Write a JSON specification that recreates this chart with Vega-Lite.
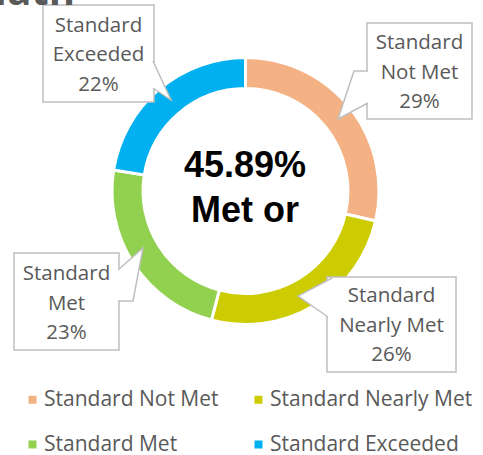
{
  "$schema": "https://vega.github.io/schema/vega-lite/v6.json",
  "width": 483,
  "height": 455,
  "autosize": "none",
  "padding": 0,
  "background": "white",
  "config": {"view": {"stroke": null}, "font": "Open Sans"},
  "datasets": {
    "segments": [
      {"cat": "Standard Not Met", "value": 28.6, "ord": 1},
      {"cat": "Standard Nearly Met", "value": 25.51, "ord": 2},
      {"cat": "Standard Met", "value": 23.4, "ord": 3},
      {"cat": "Standard Exceeded", "value": 22.49, "ord": 4}
    ],
    "boxes": [
      {"cat": "Standard Exceeded", "x1": -202.5, "x2": -91.5, "y1": 186, "y2": 89, "cx": -147, "cy": 165.5, "label": "Standard\nExceeded\n22%"},
      {"cat": "Standard Not Met", "x1": 121.5, "x2": 226.5, "y1": 168, "y2": 72, "cx": 174, "cy": 148, "label": "Standard\nNot Met\n29%"},
      {"cat": "Standard Met", "x1": -231.5, "x2": -126.5, "y1": -62, "y2": -159, "cx": -179, "cy": -83, "label": "Standard\nMet\n23%"},
      {"cat": "Standard Nearly Met", "x1": 81.5, "x2": 210.5, "y1": -86, "y2": -181, "cx": 146, "cy": -105, "label": "Standard\nNearly Met\n26%"}
    ],
    "tails": [
      {"cat": "Standard Exceeded", "px": -92.5, "py": 130, "o": 1},
      {"cat": "Standard Exceeded", "px": -74.5, "py": 91, "o": 2},
      {"cat": "Standard Exceeded", "px": -92.5, "py": 103, "o": 3},
      {"cat": "Standard Not Met", "px": 122.5, "py": 120, "o": 1},
      {"cat": "Standard Not Met", "px": 108.5, "py": 120, "o": 2},
      {"cat": "Standard Not Met", "px": 92.5, "py": 72, "o": 3},
      {"cat": "Standard Not Met", "px": 122.5, "py": 88, "o": 4},
      {"cat": "Standard Met", "px": -127.5, "py": -79, "o": 1},
      {"cat": "Standard Met", "px": -102.5, "py": -57, "o": 2},
      {"cat": "Standard Met", "px": -112.5, "py": -110, "o": 3},
      {"cat": "Standard Met", "px": -127.5, "py": -110, "o": 4},
      {"cat": "Standard Nearly Met", "px": 86.5, "py": -87, "o": 1},
      {"cat": "Standard Nearly Met", "px": 52.5, "py": -105, "o": 2},
      {"cat": "Standard Nearly Met", "px": 82.5, "py": -126, "o": 3}
    ],
    "center": [
      {"t": "45.89%", "x": -0.5, "y": 14},
      {"t": "Met or", "x": -0.5, "y": -31}
    ],
    "title": [
      {"t": "Math", "x": -170.5, "y": 186}
    ]
  },
  "layer": [
    {
      "data": {"name": "segments"},
      "mark": {"type": "arc", "innerRadius": 102.5, "outerRadius": 133.5, "stroke": "white", "strokeWidth": 3},
      "encoding": {
        "x": {"datum": 0, "type": "quantitative", "scale": {"domain": [-245.5, 237.5], "nice": false, "zero": false}, "axis": null},
        "y": {"datum": 0, "type": "quantitative", "scale": {"domain": [-264, 191], "nice": false, "zero": false}, "axis": null},
        "theta": {"field": "value", "type": "quantitative", "stack": true},
        "order": {"field": "ord", "type": "quantitative"},
        "color": {
          "field": "cat",
          "type": "nominal",
          "scale": {
            "domain": ["Standard Not Met", "Standard Nearly Met", "Standard Met", "Standard Exceeded"],
            "range": ["#F4B183", "#CCCC00", "#92D050", "#00B0F0"]
          },
          "legend": {
            "title": null,
            "orient": "none",
            "direction": "horizontal",
            "legendX": 22,
            "legendY": 389,
            "columns": 2,
            "padding": 0,
            "symbolType": "square",
            "symbolSize": 64,
            "symbolStrokeWidth": 0,
            "labelFont": "Open Sans",
            "labelFontSize": 21,
            "labelColor": "#595959",
            "labelOffset": 1,
            "labelLimit": 300,
            "rowPadding": 23,
            "columnPadding": 29
          }
        }
      }
    },
    {
      "data": {"name": "boxes"},
      "mark": {"type": "rect", "fill": "white", "stroke": "#BFBFBF", "strokeWidth": 1.5},
      "encoding": {
        "x": {"field": "x1", "type": "quantitative"},
        "x2": {"field": "x2"},
        "y": {"field": "y1", "type": "quantitative"},
        "y2": {"field": "y2"}
      }
    },
    {
      "data": {"name": "tails"},
      "mark": {"type": "line", "stroke": "#BFBFBF", "fill": "white", "strokeWidth": 1.5},
      "encoding": {
        "x": {"field": "px", "type": "quantitative"},
        "y": {"field": "py", "type": "quantitative"},
        "detail": {"field": "cat"},
        "order": {"field": "o", "type": "quantitative"}
      }
    },
    {
      "data": {"name": "boxes"},
      "mark": {"type": "text", "fontSize": 20.5, "color": "#595959", "align": "center", "baseline": "middle", "lineBreak": "\n", "lineHeight": 29.5, "font": "Open Sans"},
      "encoding": {
        "x": {"field": "cx", "type": "quantitative"},
        "y": {"field": "cy", "type": "quantitative"},
        "text": {"field": "label"}
      }
    },
    {
      "data": {"name": "center"},
      "mark": {"type": "text", "fontSize": 36, "fontWeight": "bold", "color": "#000000", "align": "center", "baseline": "alphabetic", "font": "Liberation Sans"},
      "encoding": {
        "x": {"field": "x", "type": "quantitative"},
        "y": {"field": "y", "type": "quantitative"},
        "text": {"field": "t"}
      }
    },
    {
      "data": {"name": "title"},
      "mark": {"type": "text", "fontSize": 40, "fontWeight": "bold", "color": "#595959", "align": "right", "baseline": "alphabetic", "font": "Open Sans"},
      "encoding": {
        "x": {"field": "x", "type": "quantitative"},
        "y": {"field": "y", "type": "quantitative"},
        "text": {"field": "t"}
      }
    }
  ]
}
